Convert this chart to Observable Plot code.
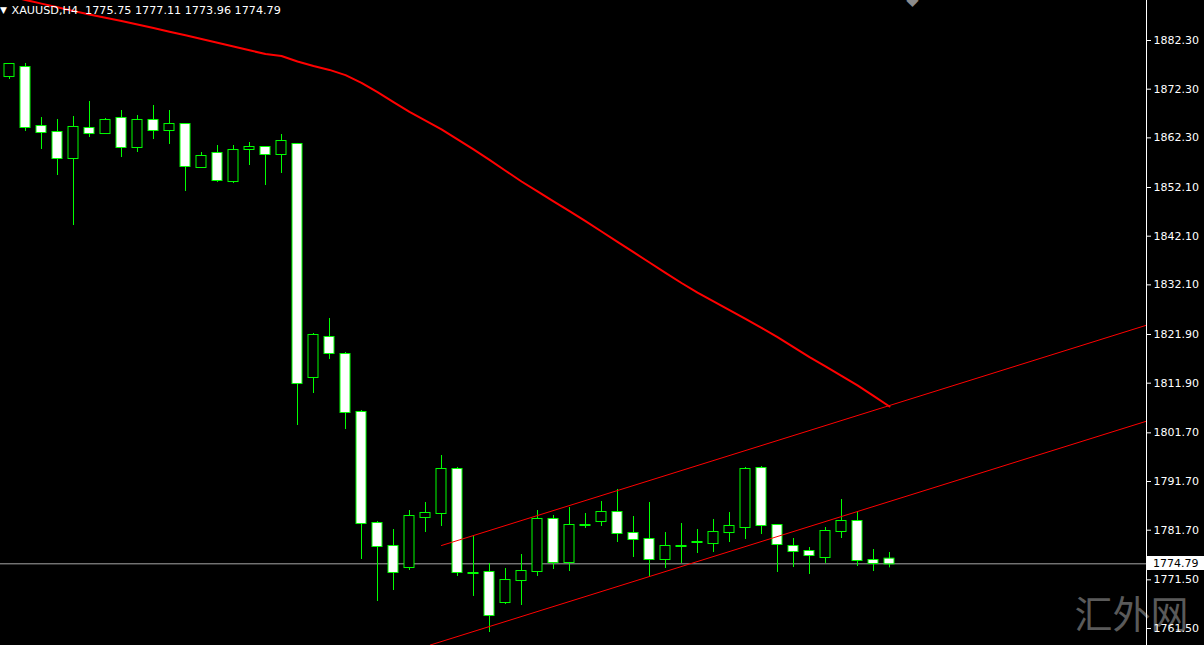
<!DOCTYPE html>
<html>
<head>
<meta charset="utf-8">
<script src="https://cdn.jsdelivr.net/npm/d3@7"></script>
<script src="https://cdn.jsdelivr.net/npm/@observablehq/plot@0.6"></script>
<style>
  html, body { margin: 0; padding: 0; background: #000; overflow: hidden; }
  #chart svg text { white-space: pre; }
</style>
</head>
<body>
<div id="chart"></div>
<script>
// ---------- data (XAUUSD H4) ----------
const symbolName = "XAUUSD,H4";
const watermarkText = "汇外网";

const opens = [1874.90,1876.75,1864.63,1863.40,1858.06,1864.22,1863.19,1866.28,1860.32,1865.87,
  1863.81,1865.04,1856.21,1859.09,1853.33,1859.91,1860.32,1858.88,1860.94,1813.07,
  1821.29,1817.79,1805.88,1783.07,1778.35,1774.03,1784.31,1785.13,1794.17,1772.80,
  1773.01,1766.84,1771.36,1773.21,1783.90,1775.06,1782.66,1783.48,1785.33,1781.02,
  1779.79,1775.68,1778.35,1779.17,1778.96,1781.22,1782.25,1794.37,1782.66,1778.35,
  1777.32,1776.09,1781.43,1783.48,1775.47,1775.75];
const highs = [1877.58,1877.58,1866.48,1866.07,1866.69,1869.77,1866.28,1867.92,1866.89,1868.95,
  1867.92,1865.25,1859.29,1860.73,1860.73,1861.35,1860.52,1862.99,1861.15,1822.11,
  1825.19,1818.20,1806.29,1783.48,1781.84,1785.74,1787.39,1797.04,1794.58,1780.40,
  1774.86,1773.83,1776.70,1785.74,1784.72,1786.36,1785.13,1787.59,1790.06,1784.51,
  1787.39,1781.22,1783.07,1781.84,1783.90,1785.33,1794.58,1794.78,1782.87,1779.99,
  1778.14,1782.25,1788.00,1785.33,1777.73,1777.11];
const lows = [1874.29,1863.61,1859.91,1854.57,1844.29,1862.37,1862.99,1858.26,1859.29,1861.96,
  1860.94,1851.28,1856.00,1853.13,1852.92,1856.62,1852.51,1854.98,1803.21,1809.78,
  1816.77,1802.38,1775.68,1767.05,1769.31,1773.42,1781.22,1782.46,1772.19,1768.08,
  1760.68,1766.43,1766.23,1772.19,1773.62,1773.21,1782.05,1782.46,1779.17,1776.09,
  1772.19,1773.83,1774.86,1776.91,1777.12,1779.17,1779.79,1780.81,1773.01,1774.03,
  1772.60,1774.86,1779.99,1774.24,1773.21,1773.96];
const closes = [1877.37,1864.43,1863.40,1858.06,1864.43,1863.19,1865.87,1860.32,1865.87,1863.81,
  1865.04,1856.42,1858.47,1853.54,1859.70,1860.32,1858.88,1861.55,1811.83,1821.70,
  1818.00,1805.88,1783.07,1778.35,1773.01,1784.51,1785.13,1794.17,1773.01,1772.80,
  1764.17,1771.36,1773.21,1783.90,1775.06,1782.66,1782.66,1785.33,1781.02,1779.79,
  1775.68,1778.35,1778.35,1779.17,1781.22,1782.46,1794.17,1782.66,1778.76,1777.32,
  1776.50,1781.43,1783.48,1775.47,1774.86,1774.79];

// moving average (red curve), one value per bar
const maValues = [1891.40,1890.64,1889.88,1889.12,1888.36,1887.64,1886.96,1886.29,1885.59,1884.85,
  1884.11,1883.37,1882.63,1881.85,1881.07,1880.29,1879.51,1879.12,1877.99,1877.08,
  1876.26,1875.19,1873.61,1871.70,1869.64,1867.63,1865.84,1864.04,1861.98,1859.93,
  1857.77,1855.55,1853.33,1851.30,1849.25,1847.23,1845.20,1843.06,1840.93,1838.81,
  1836.69,1834.58,1832.48,1830.51,1828.70,1826.90,1825.09,1823.28,1821.35,1819.29,
  1817.24,1815.35,1813.41,1811.45,1809.29,1807.11];

// equidistant channel (bar index, price)
const channelUpper = [{bar: 27, price: 1778.55}, {bar: 71.06, price: 1823.81}];
const channelLower = [{bar: 26.3, price: 1758.11}, {bar: 71.06, price: 1804.09}];

// right-axis price labels
const priceTicks = [1882.30,1872.30,1862.30,1852.10,1842.10,1832.10,1821.90,1811.90,
  1801.70,1791.70,1781.70,1771.50,1761.50];

// ---------- build ----------
const candles = opens.map((o, i) => ({
  bar: i, open: o, high: highs[i], low: lows[i], close: closes[i],
  bear: closes[i] < o
}));
const last = candles[candles.length - 1];
const headerText = symbolName + "\u00a0\u00a0" +
  [last.open, last.high, last.low, last.close].map(v => v.toFixed(2)).join(" ");

const W = 1204, H = 645, axisPos = 1146;
const font = "DejaVu Sans, Verdana, sans-serif";
const green = "#00ff00";
const halfBody = 0.3125;

const plot = Plot.plot({
  width: W, height: H,
  marginLeft: 0, marginRight: W - axisPos, marginTop: 0, marginBottom: 0,
  style: {background: "#000", color: "#fff", fontFamily: font, fontSize: "11px"},
  x: {domain: [-0.5625, 71.0625], axis: null},
  y: {domain: [1758.01, 1890.52], axis: null},
  marks: [
    Plot.text([watermarkText], {frameAnchor: "bottom-right", dx: -15, dy: -30,
      fill: "#5a5a5a", fontSize: 38, fontFamily: "Noto Sans CJK SC", textAnchor: "middle",
      lineAnchor: "middle"}),
    Plot.ruleY([last.close], {stroke: "#a6a6a6", strokeWidth: 1}),
    Plot.ruleX(candles, {x: "bar", y1: "low", y2: "high", stroke: green, strokeWidth: 1}),
    Plot.rect(candles, {
      x1: d => d.bar - halfBody, x2: d => d.bar + halfBody,
      y1: d => Math.min(d.open, d.close), y2: d => Math.max(d.open, d.close),
      fill: d => d.bear ? "#ffffff" : "#000000", stroke: green, strokeWidth: 1,
      insetTop: -0.5, insetBottom: -0.5
    }),
    Plot.line(maValues.map((v, i) => ({bar: i, price: v})),
      {x: "bar", y: "price", stroke: "#ff0000", strokeWidth: 2}),
    Plot.line(channelUpper, {x: "bar", y: "price", stroke: "#ff0000", strokeWidth: 1}),
    Plot.line(channelLower, {x: "bar", y: "price", stroke: "#ff0000", strokeWidth: 1}),
    Plot.ruleX([71.0625], {stroke: "#ffffff", strokeWidth: 1}),
    Plot.axisY(priceTicks, {anchor: "right", tickSize: 4, tickPadding: 3,
      tickFormat: d => d.toFixed(2), label: null, fill: "#fff", stroke: "#fff",
      fontSize: 11, fontFamily: font}),
    Plot.text(["\u25BC"], {frameAnchor: "top-left", dx: 3, dy: 10, fill: "#fff",
      fontSize: 9, textAnchor: "middle", lineAnchor: "middle"}),
    Plot.text([headerText], {frameAnchor: "top-left", dx: 11, dy: 10, fill: "#fff",
      fontSize: 11.2, fontFamily: font, textAnchor: "start", lineAnchor: "middle"}),
    Plot.text(["\u25C6"], {frameAnchor: "top-left", dx: 912, dy: -1, fill: "#8c8c8c",
      fontSize: 16, textAnchor: "middle", lineAnchor: "middle"})
  ]
});

// current price label box on the axis, positioned with Plot's y scale
const yPos = plot.scale("y").apply(last.close);
const svg = d3.select(plot);
const g = svg.append("g");
g.append("rect").attr("x", axisPos + 1).attr("y", Math.round(yPos) - 7)
  .attr("width", W - axisPos - 1).attr("height", 14).attr("fill", "#fff");
g.append("text").attr("x", axisPos + 7).attr("y", yPos).attr("dy", "0.35em")
  .attr("text-anchor", "start")
  .attr("fill", "#000").attr("font-family", font).attr("font-size", 11)
  .text(last.close.toFixed(2));

document.getElementById("chart").appendChild(plot);
</script>
</body>
</html>
